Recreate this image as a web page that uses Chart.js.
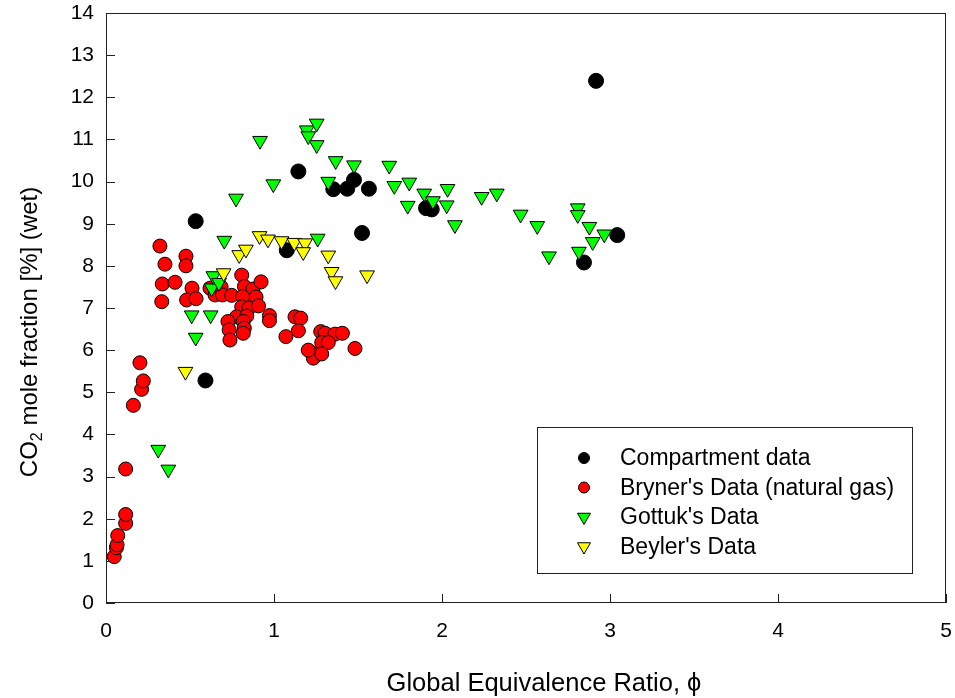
<!DOCTYPE html>
<html>
<head>
<meta charset="utf-8">
<script src="https://cdn.jsdelivr.net/npm/chart.js@4.4.1/dist/chart.umd.min.js"></script>
<style>
  html, body { margin: 0; padding: 0; background: #ffffff; }
  #wrap { width: 955px; height: 698px; position: relative; }
</style>
</head>
<body>
<div id="wrap"><canvas id="c" width="955" height="698"></canvas></div>
<script>
// Global equivalence ratio (phi) and CO2 mole fraction [%] for each data source
const compartmentPhi = [0.534, 0.592, 1.076, 1.145, 1.353, 1.436, 1.476, 1.524, 1.565, 1.905, 1.939, 2.845, 2.917, 3.043];
const compartmentCO2 = [9.06, 5.28, 8.37, 10.24, 9.82, 9.83, 10.04, 8.78, 9.83, 9.37, 9.34, 8.08, 12.39, 8.73];

const brynerPhi = [
  0.049, 0.062, 0.066, 0.070, 0.117, 0.117, 0.117, 0.163, 0.202, 0.212, 0.222,
  0.321, 0.351, 0.476, 0.476, 0.335, 0.411, 0.332, 0.512, 0.480, 0.536,
  0.619, 0.649, 0.685, 0.693, 0.748, 0.808, 0.824, 0.875, 0.923, 0.893, 0.813, 0.808,
  0.851, 0.908, 0.777, 0.838, 0.726, 0.817, 0.733, 0.823, 0.817, 0.738, 0.973, 0.973,
  1.125, 1.159, 1.145, 1.071, 1.278, 1.304, 1.363, 1.407, 1.284, 1.323, 1.224, 1.234,
  1.284, 1.482, 1.204
];
const brynerCO2 = [
  1.10, 1.31, 1.38, 1.60, 1.89, 2.10, 3.18, 4.69, 5.70, 5.07, 5.27,
  8.47, 8.04, 8.23, 8.00, 7.57, 7.61, 7.15, 7.47, 7.19, 7.22,
  7.47, 7.31, 7.50, 7.31, 7.30, 7.78, 7.51, 7.45, 7.62, 7.26, 7.27, 7.03,
  7.00, 7.05, 6.79, 6.81, 6.68, 6.68, 6.48, 6.52, 6.40, 6.24, 6.82, 6.70,
  6.79, 6.76, 6.46, 6.32, 6.44, 6.40, 6.38, 6.40, 6.18, 6.18, 5.94, 5.81,
  5.91, 6.04, 6.00
];

const gottukPhi = [
  0.311, 0.371, 0.510, 0.534, 0.623, 0.629, 0.639, 0.673, 0.704, 0.774,
  0.917, 0.996, 1.195, 1.204, 1.254, 1.254, 1.260, 1.323, 1.367, 1.476,
  1.686, 1.716, 1.805, 1.796, 1.894, 1.946, 2.033, 2.028, 2.077, 2.236,
  2.326, 2.468, 2.567, 2.637, 2.808, 2.808, 2.815, 2.877, 2.897, 2.966
];
const gottukCO2 = [
  3.64, 3.17, 6.83, 6.30, 6.83, 7.47, 7.76, 7.60, 8.60, 9.60,
  10.97, 9.94, 11.22, 11.08, 11.38, 10.87, 8.65, 10.00, 10.49, 10.39,
  10.38, 9.90, 9.98, 9.43, 9.72, 9.54, 9.83, 9.44, 8.97, 9.64,
  9.72, 9.22, 8.95, 8.23, 9.37, 9.21, 8.34, 8.93, 8.57, 8.75
];

const beylerPhi = [0.473, 0.700, 0.793, 0.833, 0.914, 0.964, 1.045, 1.121, 1.185, 1.174, 1.323, 1.343, 1.366, 1.554];
const beylerCO2 = [5.49, 7.83, 8.26, 8.39, 8.71, 8.63, 8.59, 8.55, 8.54, 8.33, 8.25, 7.86, 7.64, 7.78];

const seriesNames = ["Compartment data", "Bryner's Data (natural gas)", "Gottuk's Data", "Beyler's Data"];
const xTicks = [0, 1, 2, 3, 4, 5];
const yTicks = [0, 1, 2, 3, 4, 5, 6, 7, 8, 9, 10, 11, 12, 13, 14];

const FONT = "'Liberation Sans', Arial, Helvetica, sans-serif";

function pairs(xs, ys) {
  return xs.map((x, i) => ({ x: x, y: ys[i] }));
}

// marker styles per series
const markerStyles = [
  { fill: '#000000', style: 'circle', radius: 7.5, rotation: 0, legendRadius: 5.5 },
  { fill: '#ff0000', style: 'circle', radius: 7, rotation: 0, legendRadius: 5.5 },
  { fill: '#00ff00', style: 'triangle', radius: 8.5, rotation: 180, legendRadius: 7.5 },
  { fill: '#ffff00', style: 'triangle', radius: 8.5, rotation: 180, legendRadius: 7.5 }
];

function makeDataset(i, xs, ys, order) {
  const m = markerStyles[i];
  return {
    label: seriesNames[i],
    data: pairs(xs, ys),
    pointStyle: m.style,
    pointRadius: m.radius,
    pointRotation: m.rotation,
    backgroundColor: m.fill,
    borderColor: '#000000',
    borderWidth: 1,
    showLine: false,
    clip: false,
    order: order
  };
}

// plot frame and inward tick marks
const framePlugin = {
  id: 'frame',
  beforeDatasetsDraw(chart) {
    const { ctx, chartArea: a, scales } = chart;
    ctx.save();
    ctx.strokeStyle = '#222222';
    ctx.lineWidth = 1;
    ctx.strokeRect(a.left + 0.5, a.top + 0.5, a.right - a.left - 1, a.bottom - a.top - 1);
    ctx.beginPath();
    xTicks.forEach(v => {
      const px = Math.round(scales.x.getPixelForValue(v)) + 0.5;
      ctx.moveTo(px, a.bottom);
      ctx.lineTo(px, a.bottom - 9);
    });
    yTicks.forEach(v => {
      const py = Math.round(scales.y.getPixelForValue(v)) + 0.5;
      ctx.moveTo(a.left, py);
      ctx.lineTo(a.left + 9, py);
    });
    ctx.stroke();
    ctx.restore();
  }
};

// axis titles (y title carries a subscript)
const titlePlugin = {
  id: 'axisTitles',
  afterDraw(chart) {
    const { ctx } = chart;
    ctx.save();
    ctx.fillStyle = '#000000';
    ctx.textBaseline = 'alphabetic';
    // x title
    ctx.font = '25.5px ' + FONT;
    ctx.textAlign = 'center';
    ctx.fillText('Global Equivalence Ratio, \u03D5', 544, 691);
    // y title
    const big = '24px ' + FONT, small = '16px ' + FONT;
    const p1 = 'CO', p2 = '2', p3 = ' mole fraction [%] (wet)';
    ctx.font = big; const w1 = ctx.measureText(p1).width; const w3 = ctx.measureText(p3).width;
    ctx.font = small; const w2 = ctx.measureText(p2).width;
    const total = w1 + w2 + w3;
    ctx.translate(37, 332);
    ctx.rotate(-Math.PI / 2);
    ctx.textAlign = 'left';
    let x0 = -total / 2;
    ctx.font = big; ctx.fillText(p1, x0, 0); x0 += w1;
    ctx.font = small; ctx.fillText(p2, x0, 5); x0 += w2;
    ctx.font = big; ctx.fillText(p3, x0, 0);
    ctx.restore();
  }
};

// boxed legend inside the plot
const legendPlugin = {
  id: 'boxLegend',
  afterDraw(chart) {
    const { ctx } = chart;
    const box = { left: 537, top: 427, right: 913, bottom: 574 };
    ctx.save();
    ctx.fillStyle = '#ffffff';
    ctx.fillRect(box.left, box.top, box.right - box.left, box.bottom - box.top);
    ctx.strokeStyle = '#222222';
    ctx.lineWidth = 1;
    ctx.strokeRect(box.left + 0.5, box.top + 0.5, box.right - box.left - 1, box.bottom - box.top - 1);
    const rowY = [458, 487.5, 517, 546.5];
    seriesNames.forEach((name, i) => {
      const m = markerStyles[i];
      const cx = 584, cy = rowY[i];
      ctx.beginPath();
      if (m.style === 'circle') {
        ctx.arc(cx, cy, m.legendRadius, 0, Math.PI * 2);
      } else {
        const r = m.legendRadius;
        ctx.moveTo(cx - r * 0.866, cy - r * 0.5);
        ctx.lineTo(cx + r * 0.866, cy - r * 0.5);
        ctx.lineTo(cx, cy + r);
        ctx.closePath();
      }
      ctx.fillStyle = m.fill;
      ctx.fill();
      ctx.strokeStyle = '#000000';
      ctx.lineWidth = 1;
      ctx.stroke();
      ctx.fillStyle = '#000000';
      ctx.font = '23px ' + FONT;
      ctx.textAlign = 'left';
      ctx.textBaseline = 'middle';
      ctx.fillText(name, 620, cy + 1);
    });
    ctx.restore();
  }
};

new Chart(document.getElementById('c'), {
  type: 'scatter',
  data: {
    datasets: [
      makeDataset(0, compartmentPhi, compartmentCO2, 4),
      makeDataset(1, brynerPhi, brynerCO2, 3),
      makeDataset(2, gottukPhi, gottukCO2, 2),
      makeDataset(3, beylerPhi, beylerCO2, 1)
    ]
  },
  options: {
    responsive: false,
    animation: false,
    devicePixelRatio: 1,
    events: [],
    layout: { autoPadding: false, padding: { top: 13, right: 9, left: 0, bottom: 0 } },
    plugins: { legend: { display: false }, tooltip: { enabled: false } },
    scales: {
      x: {
        type: 'linear', min: 0, max: 5,
        afterFit(scale) {
          scale.height = 95;
          scale.paddingLeft = 0; scale.paddingRight = 0;
          scale.paddingTop = 0; scale.paddingBottom = 0;
        },
        afterBuildTicks(scale) { scale.ticks = xTicks.map(v => ({ value: v })); },
        grid: { display: false, drawTicks: false },
        border: { display: false },
        ticks: { color: '#000000', font: { family: FONT, size: 21 }, padding: 16, maxRotation: 0 }
      },
      y: {
        type: 'linear', min: 0, max: 14,
        afterFit(scale) {
          scale.width = 106;
          scale.paddingLeft = 0; scale.paddingRight = 0;
          scale.paddingTop = 0; scale.paddingBottom = 0;
        },
        afterBuildTicks(scale) { scale.ticks = yTicks.map(v => ({ value: v })); },
        grid: { display: false, drawTicks: false },
        border: { display: false },
        ticks: { color: '#000000', font: { family: FONT, size: 21 }, padding: 12 }
      }
    }
  },
  plugins: [framePlugin, titlePlugin, legendPlugin]
});
</script>
</body>
</html>
